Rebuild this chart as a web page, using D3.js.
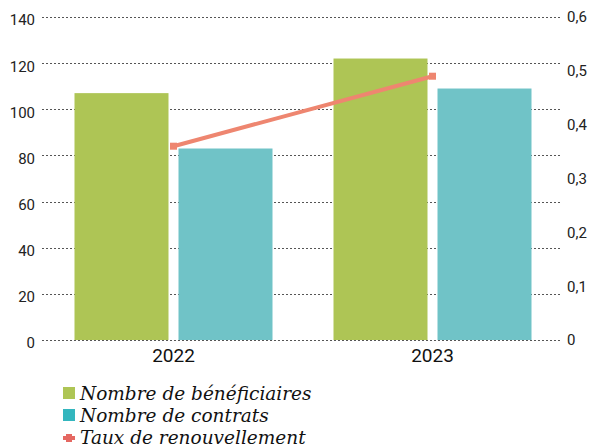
<!DOCTYPE html>
<html>
<head>
<meta charset="utf-8">
<script src="https://cdn.jsdelivr.net/npm/d3@7"></script>
<style>
  body { margin: 0; background: #fff; }
  svg { display: block; }
  text { font-family: Roboto, "Noto Sans", sans-serif; }
  text.legend-label { font-family: "DejaVu Serif", "Liberation Serif", serif; font-style: italic; }
</style>
</head>
<body>
<svg id="chart" width="590" height="444"></svg>
<script>
// Years along the x axis
const years = ["2022", "2023"];
// Bar series (left axis)
const beneficiaires = [107, 122];
const contrats = [83, 109];
// Line series (right axis)
const tauxRenouvellement = [0.36, 0.49];
// Axis ticks
const leftTicks = [0, 20, 40, 60, 80, 100, 120, 140];
const rightTicks = [0, 0.1, 0.2, 0.3, 0.4, 0.5, 0.6];
// Legend
const seriesNames = ["Nombre de bénéficiaires", "Nombre de contrats", "Taux de renouvellement"];

const colors = { green: "#AEC555", teal: "#70C3C7", line: "#EE8670",
                 legendTeal: "#33B6BE", legendLine: "#E56862" };

const svg = d3.select("#chart");

const x = d3.scaleBand().domain(years).range([44, 562]).paddingInner(0).paddingOuter(0);
const yL = d3.scaleLinear().domain([0, 140]).range([340, 17]);
const yR = d3.scaleLinear().domain([0, 0.6]).range([340, 17]);

const barW = 94, gap = 10;

// Gridlines (dotted)
svg.append("g")
  .selectAll("line")
  .data(leftTicks)
  .join("line")
  .attr("x1", 42).attr("x2", 560)
  .attr("y1", d => Math.round(yL(d)) + 0.5)
  .attr("y2", d => Math.round(yL(d)) + 0.5)
  .attr("stroke", "#555")
  .attr("stroke-width", 1)
  .attr("stroke-dasharray", "2,2");

// Left axis labels
const fmtR = d3.formatLocale({ decimal: ",", thousands: " ", grouping: [3], currency: ["", "€"] }).format("~g");
svg.append("g")
  .selectAll("text")
  .data(leftTicks)
  .join("text")
  .attr("x", 35)
  .attr("y", d => yL(d) + 3)
  .attr("dy", "0.36em")
  .attr("text-anchor", "end")
  .attr("font-size", 15)
  .attr("fill", "#222")
  .text(d => d);

// Right axis labels
svg.append("g")
  .selectAll("text")
  .data(rightTicks)
  .join("text")
  .attr("x", 567)
  .attr("y", d => yR(d))
  .attr("dy", "0.36em")
  .attr("text-anchor", "start")
  .attr("font-size", 15)
  .attr("fill", "#222")
  .text(d => fmtR(d));

// Bars
const center = d => x(d) + x.bandwidth() / 2;
const bars = svg.append("g");
bars.selectAll("rect.b1")
  .data(years)
  .join("rect")
  .attr("class", "b1")
  .attr("x", d => center(d) - gap / 2 - barW)
  .attr("width", barW)
  .attr("y", (d, i) => yL(beneficiaires[i]))
  .attr("height", (d, i) => yL(0) - yL(beneficiaires[i]))
  .attr("fill", colors.green);
bars.selectAll("rect.b2")
  .data(years)
  .join("rect")
  .attr("class", "b2")
  .attr("x", d => center(d) + gap / 2)
  .attr("width", barW)
  .attr("y", (d, i) => yL(contrats[i]))
  .attr("height", (d, i) => yL(0) - yL(contrats[i]))
  .attr("fill", colors.teal);

// Line series
const line = d3.line().x((d, i) => center(years[i])).y(d => yR(d));
svg.append("path")
  .datum(tauxRenouvellement)
  .attr("d", line)
  .attr("fill", "none")
  .attr("stroke", colors.line)
  .attr("stroke-width", 4);
svg.append("g")
  .selectAll("rect")
  .data(tauxRenouvellement)
  .join("rect")
  .attr("x", (d, i) => center(years[i]) - 3.5)
  .attr("y", d => yR(d) - 3.5)
  .attr("width", 7).attr("height", 7)
  .attr("fill", colors.line);

// X axis labels
svg.append("g")
  .selectAll("text")
  .data(years)
  .join("text")
  .attr("x", d => center(d))
  .attr("y", 362)
  .attr("text-anchor", "middle")
  .attr("font-size", 19)
  .attr("fill", "#111")
  .text(d => d);

// Legend
const legend = svg.append("g").attr("transform", "translate(63,387)");
const rowH = 22;
seriesNames.forEach((name, i) => {
  const g = legend.append("g").attr("transform", `translate(0,${i * rowH})`);
  if (i < 2) {
    g.append("rect").attr("width", 12).attr("height", 12)
      .attr("fill", i === 0 ? colors.green : colors.legendTeal);
  } else {
    g.append("rect").attr("x", 0).attr("y", 5).attr("width", 12).attr("height", 4)
      .attr("fill", colors.legendLine);
    g.append("rect").attr("x", 3).attr("y", 3).attr("width", 6).attr("height", 8)
      .attr("fill", colors.legendLine);
  }
  g.append("text")
    .attr("class", "legend-label")
    .attr("x", 17)
    .attr("y", 13)
    .attr("font-size", 18.5)
    .attr("fill", "#111")
    .text(name);
});
</script>
</body>
</html>
